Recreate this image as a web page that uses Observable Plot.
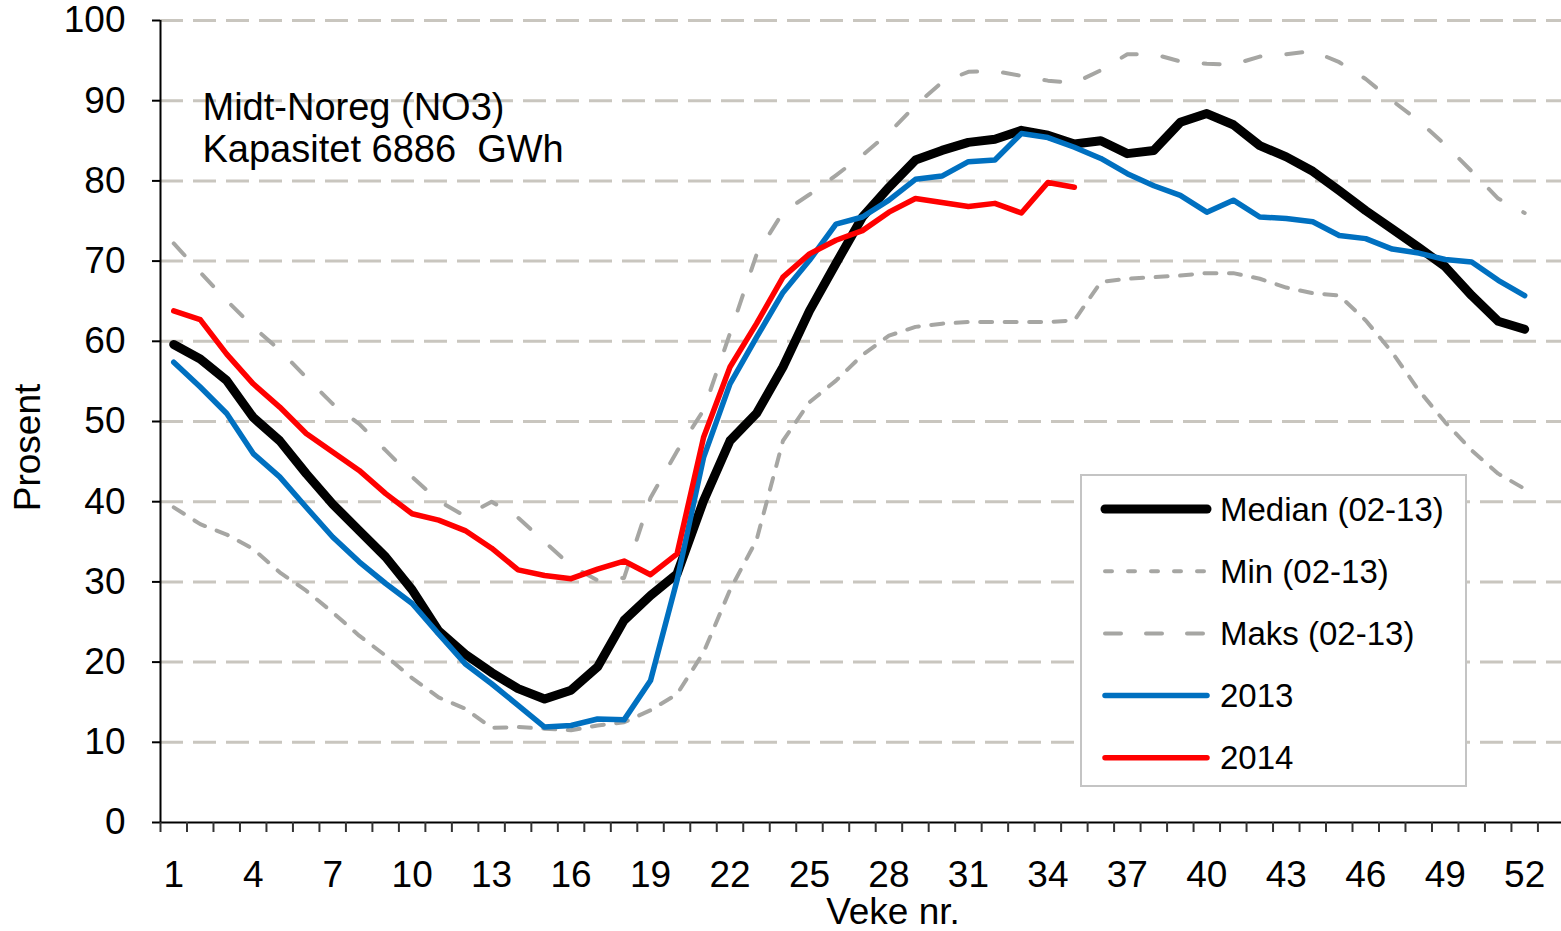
<!DOCTYPE html>
<html>
<head>
<meta charset="utf-8">
<script src="https://cdn.jsdelivr.net/npm/d3@7"></script>
<script src="https://cdn.jsdelivr.net/npm/@observablehq/plot@0.6"></script>
<style>
  body { margin: 0; background: #fff; font-family: "Liberation Sans", Arial, sans-serif; }
  #wrap { position: relative; width: 1561px; height: 931px; overflow: hidden; background: #fff; }
  #wrap > svg.chart { position: absolute; left: 0; top: 0; }
</style>
</head>
<body>
<div id="wrap"></div>
<script>
// ---- data ----
const weeks = d3.range(1, 53);
const median = [59.6, 57.8, 55.1, 50.5, 47.6, 43.5, 39.7, 36.4, 33.1, 29.0,
                23.9, 21.0, 18.7, 16.7, 15.4, 16.5, 19.4, 25.2, 28.3, 31.0,
                40.1, 47.6, 51.0, 56.8, 63.8, 69.7, 75.5, 79.2, 82.6, 83.8,
                84.8, 85.2, 86.3, 85.7, 84.6, 85.0, 83.4, 83.8, 87.3, 88.4,
                87.0, 84.4, 83.0, 81.2, 78.8, 76.3, 74.0, 71.7, 69.3, 65.7,
                62.5, 61.5];
const minVals = [39.3, 37.2, 35.9, 34.1, 31.2, 28.9, 26.2, 23.3, 20.8, 18.0,
                 15.6, 14.2, 11.8, 11.9, 11.7, 11.5, 12.1, 12.5, 14.0, 16.0,
                 21.2, 29.0, 35.2, 47.6, 52.4, 55.1, 58.3, 60.7, 61.8, 62.2,
                 62.4, 62.4, 62.4, 62.4, 62.6, 67.4, 67.8, 68.0, 68.2, 68.5,
                 68.5, 67.8, 66.7, 66.0, 65.7, 62.6, 58.6, 53.9, 49.9, 46.4,
                 43.5, 41.6];
const maksVals = [72.2, 68.6, 65.1, 61.8, 58.9, 55.5, 52.2, 49.7, 46.4, 43.1,
                  40.1, 38.2, 40.0, 38.0, 35.0, 32.0, 30.2, 30.5, 40.5, 46.3,
                  51.4, 61.0, 70.8, 76.1, 78.3, 80.7, 83.2, 86.0, 89.4, 92.3,
                  93.6, 93.7, 93.1, 92.5, 92.2, 93.8, 95.8, 95.8, 94.9, 94.6,
                  94.5, 95.5, 95.8, 96.2, 94.8, 92.7, 90.0, 87.5, 84.5, 81.2,
                  77.8, 76.0];
const s2013 = [57.4, 54.3, 51.0, 46.0, 43.1, 39.3, 35.6, 32.5, 29.8, 27.3,
               23.5, 19.8, 17.3, 14.6, 11.9, 12.1, 12.9, 12.8, 17.7, 30.2,
               45.5, 54.7, 60.5, 66.1, 70.1, 74.6, 75.5, 77.6, 80.2, 80.6,
               82.4, 82.6, 85.9, 85.4, 84.2, 82.8, 80.9, 79.4, 78.2, 76.1,
               77.6, 75.5, 75.3, 74.9, 73.2, 72.8, 71.5, 71.0, 70.2, 69.9,
               67.6, 65.7];
const s2014 = [63.8, 62.7, 58.4, 54.7, 51.8, 48.5, 46.2, 43.9, 41.0, 38.5,
               37.7, 36.4, 34.2, 31.5, 30.8, 30.4, 31.6, 32.6, 30.9, 33.5,
               48.0, 56.8, 62.2, 68.0, 70.9, 72.6, 73.8, 76.1, 77.8, 77.3,
               76.8, 77.2, 76.0, 79.8, 79.2];
const yTicks = d3.range(0, 101, 10);
const xLabelWeeks = d3.range(1, 53, 3);
const xTickBounds = d3.range(0.5, 54, 1);
const seriesNames = ["Median (02-13)", "Min (02-13)", "Maks (02-13)", "2013", "2014"];
const titleLines = "Midt-Noreg (NO3)\nKapasitet 6886\u00a0 GWh";

const toRows = (vals) => vals.map((v, i) => ({week: weeks[i], value: v}));

const font = "'Liberation Sans', Arial, sans-serif";

const chart = Plot.plot({
  width: 1561,
  height: 931,
  marginTop: 20,
  marginBottom: 109,
  marginLeft: 160,
  marginRight: 0,
  className: "chart",
  style: {fontFamily: font, fontSize: "37px", color: "#000", background: "#fff", overflow: "visible"},
  x: {type: "linear", domain: [0.5, 53.39]},
  y: {domain: [0, 100]},
  marks: [
    Plot.ruleY(yTicks.filter(d => d > 0), {stroke: "#c9c6bf", strokeWidth: 3, strokeDasharray: "23,10"}),
    Plot.line(toRows(median), {x: "week", y: "value", stroke: "#000", strokeWidth: 9, strokeLinejoin: "round", strokeLinecap: "round"}),
    Plot.line(toRows(minVals), {x: "week", y: "value", stroke: "#a6a6a3", strokeWidth: 4, strokeDasharray: "12,12.5", strokeLinecap: "round"}),
    Plot.line(toRows(maksVals), {x: "week", y: "value", stroke: "#a6a6a3", strokeWidth: 4, strokeDasharray: "16,26", strokeLinecap: "round"}),
    Plot.line(toRows(s2013), {x: "week", y: "value", stroke: "#0070c0", strokeWidth: 5.5, strokeLinejoin: "round", strokeLinecap: "round"}),
    Plot.line(toRows(s2014), {x: "week", y: "value", stroke: "#ff0000", strokeWidth: 5.5, strokeLinejoin: "round", strokeLinecap: "round"}),
    Plot.ruleX([0.5], {stroke: "#000", strokeWidth: 2}),
    Plot.ruleY([0], {stroke: "#000", strokeWidth: 2}),
    Plot.axisY({ticks: yTicks, tickSize: 8, tickPadding: 27, label: null, tickFormat: d => String(d), strokeWidth: 2}),
    Plot.axisX({ticks: xTickBounds, tickSize: 10, tickFormat: () => "", label: null, strokeWidth: 2, stroke: "#333"}),
    Plot.axisX({ticks: xLabelWeeks, tickSize: 0, tickPadding: 38, label: null, tickFormat: d => String(d)}),
    Plot.text([titleLines], {frameAnchor: "top-left", dx: 42, dy: 70, lineAnchor: "top", textAnchor: "start", fontSize: 38, lineHeight: 1.1, fill: "#000"}),
    Plot.text(["Prosent"], {frameAnchor: "left", rotate: -90, textAnchor: "middle", lineAnchor: "middle", dx: -132, dy: 26, fontSize: 37, fill: "#000"}),
    Plot.text(["Veke nr."], {frameAnchor: "bottom", textAnchor: "middle", lineAnchor: "middle", dx: 32, dy: 90, fontSize: 37, fill: "#000"})
  ]
});
document.getElementById("wrap").appendChild(chart);

// ---- legend ----
const legendStyles = [
  {stroke: "#000", width: 9, dash: null},
  {stroke: "#a6a6a3", width: 4, dash: "7,16"},
  {stroke: "#a6a6a3", width: 4, dash: "16,25"},
  {stroke: "#0070c0", width: 5.5, dash: null},
  {stroke: "#ff0000", width: 5.5, dash: null}
];
const lg = d3.create("svg")
  .attr("id", "legend")
  .attr("width", 388).attr("height", 314)
  .style("position", "absolute").style("left", "1080px").style("top", "474px")
  .style("font-family", font);
lg.append("rect").attr("x", 1).attr("y", 1).attr("width", 385).attr("height", 311)
  .attr("fill", "#fff").attr("stroke", "#c4c4c4").attr("stroke-width", 2);
seriesNames.forEach((name, i) => {
  const cy = 35 + i * 62.2;
  const s = legendStyles[i];
  const ln = lg.append("line").attr("x1", 25).attr("x2", 127).attr("y1", cy).attr("y2", cy)
    .attr("stroke", s.stroke).attr("stroke-width", s.width).attr("stroke-linecap", "round");
  if (s.dash) ln.attr("stroke-dasharray", s.dash);
  lg.append("text").attr("x", 140).attr("y", cy).attr("dy", "0.35em")
    .attr("font-size", 33).attr("fill", "#000").text(name);
});
document.getElementById("wrap").appendChild(lg.node());
</script>
</body>
</html>
